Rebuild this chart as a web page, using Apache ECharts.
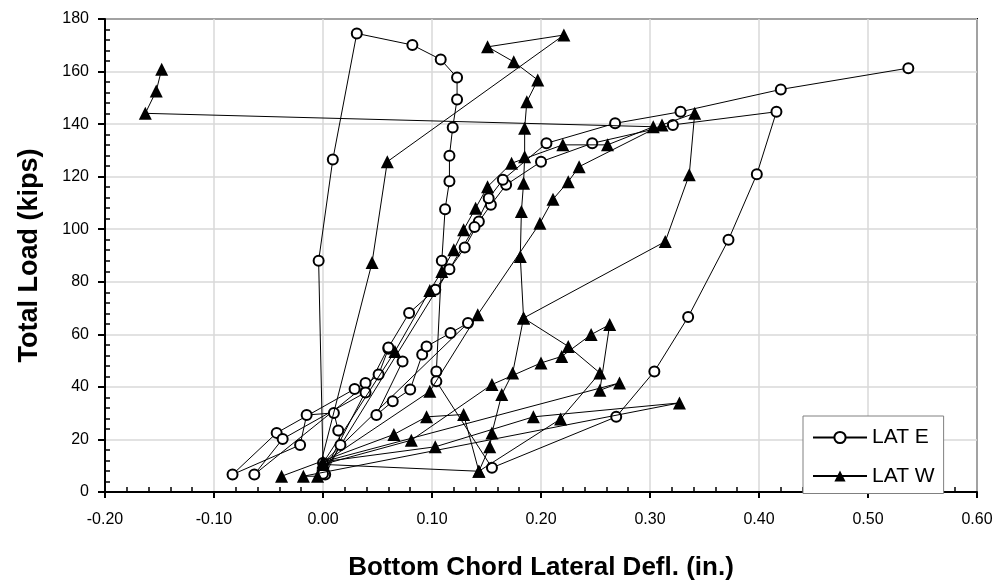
<!DOCTYPE html>
<html>
<head>
<meta charset="utf-8">
<script src="https://cdn.jsdelivr.net/npm/echarts@6/dist/echarts.min.js"></script>
<style>
  html, body { margin: 0; padding: 0; background: #fff; }
  #chart { width: 1008px; height: 588px; }
</style>
</head>
<body>
<div id="chart"></div>
<script>
// Lateral deflection of the bottom chord (in.) vs. total load (kips), in recorded order
const latE = [
  [0.002, 6.65], [0.016, 17.9], [0.014, 23.4], [0.010, 30.1], [-0.015, 29.3], [-0.021, 17.9], [-0.083, 6.65],
  [-0.0425, 22.5], [0.029, 39.2], [0.039, 41.5], [0.039, 37.9], [-0.037, 20.2], [-0.063, 6.65],
  [0.051, 44.7], [0.060, 54.5], [0.073, 49.7], [0.049, 29.3], [0.064, 34.5], [0.080, 39.0],
  [0.091, 52.3], [0.095, 55.4], [0.117, 60.5], [0.133, 64.3], [0.0, 11.0],
  [-0.004, 88.0], [0.009, 126.5], [0.031, 174.5], [0.082, 170.1], [0.108, 164.6], [0.123, 157.7],
  [0.123, 149.4], [0.119, 138.7], [0.116, 128.0], [0.116, 118.3], [0.112, 107.6], [0.109, 88.0],
  [0.104, 45.9], [0.104, 42.1], [0.155, 9.2], [0.269, 28.6], [0.304, 45.9], [0.335, 66.6], [0.372, 96.0],
  [0.398, 120.9], [0.416, 144.7], [0.321, 139.7], [0.247, 132.7], [0.200, 125.7], [0.168, 116.9],
  [0.154, 109.3], [0.143, 102.9], [0.130, 93.0], [0.103, 77.0], [0.079, 68.1], [0.060, 55.0], [0.0, 6.9],
  [0.116, 84.8], [0.139, 100.8], [0.152, 111.8], [0.165, 118.8], [0.205, 132.7], [0.268, 140.3],
  [0.328, 144.7], [0.420, 153.2], [0.537, 161.3]
];

const latW = [
  [-0.038, 6.0], [0.065, 21.9], [0.095, 28.6], [0.129, 29.5], [0.143, 7.9],
  [0.0, 10.5], [0.081, 19.7], [0.155, 40.9], [0.200, 49.1], [0.219, 51.6], [0.246, 59.9], [0.263, 63.7],
  [0.254, 38.7], [0.272, 41.5], [0.0, 11.5], [0.103, 17.2], [0.193, 28.6], [0.327, 33.9],
  [-0.018, 6.0], [-0.005, 6.0],
  [0.045, 87.3], [0.059, 125.7], [0.221, 173.9], [0.151, 169.4], [0.175, 163.7], [0.197, 156.8],
  [0.187, 148.5], [0.185, 138.4], [0.185, 127.6], [0.184, 117.5], [0.182, 106.7], [0.181, 89.6],
  [0.184, 66.2], [0.225, 55.4], [0.254, 45.3], [0.218, 27.8], [0.143, 7.9], [0.153, 17.2], [0.155, 22.5],
  [0.164, 37.1], [0.174, 45.3], [0.184, 66.2], [0.314, 95.3],
  [0.336, 120.7], [0.341, 144.1], [0.311, 139.7], [0.235, 123.8], [0.225, 118.1], [0.211, 111.4],
  [0.199, 102.3], [0.142, 67.5], [0.098, 38.3], [0.0, 11.0], [0.066, 53.5], [0.098, 76.7], [0.109, 83.9],
  [0.120, 92.2], [0.129, 99.8], [0.140, 108.0], [0.151, 116.2], [0.173, 125.1], [0.220, 132.1], [0.261, 132.1],
  [0.303, 139.0], [-0.163, 144.1], [-0.153, 152.6], [-0.148, 160.9]
];

const xTicks = { min: -0.2, max: 0.6, step: 0.1 };
const yTicks = { min: 0, max: 180, step: 20 };

const chart = echarts.init(document.getElementById('chart'), null, { renderer: 'canvas' });
const font = '"Liberation Sans", Arial, sans-serif';

chart.setOption({
  animation: false,
  backgroundColor: '#fff',
  grid: {
    left: 105, right: 31, top: 19, bottom: 96,
    show: true, borderColor: '#000', borderWidth: 2, backgroundColor: 'transparent'
  },
  legend: {
    left: 803, top: 416,
    orient: 'vertical',
    backgroundColor: '#fff',
    borderColor: '#808080', borderWidth: 1,
    padding: [11, 9, 7, 9],
    itemWidth: 54, itemHeight: 14, itemGap: 17.5,
    textStyle: { fontFamily: font, fontSize: 21, color: '#000' },
    data: ['LAT E', 'LAT W']
  },
  xAxis: [{
    type: 'value', min: xTicks.min, max: xTicks.max, interval: xTicks.step,
    name: 'Bottom Chord Lateral Defl. (in.)', nameLocation: 'middle', nameGap: 63,
    nameTextStyle: { fontFamily: font, fontSize: 26, fontWeight: 'bold', color: '#000' },
    axisLine: { onZero: false, lineStyle: { color: '#000', width: 2 } },
    axisTick: { show: true, length: 6, lineStyle: { color: '#000', width: 2 } },
    axisLabel: { fontFamily: font, fontSize: 16, color: '#000', margin: 20, formatter: v => v.toFixed(2) },
    splitLine: { show: true, lineStyle: { color: '#d9d9d9', width: 1.5 } }
  }, {
    type: 'value', min: xTicks.min, max: xTicks.max, interval: xTicks.step, position: 'bottom',
    axisLine: { show: false, onZero: false }, axisLabel: { show: false }, splitLine: { show: false },
    axisTick: { show: false, inside: true },
    minorTick: { show: true, splitNumber: 5, length: 5, lineStyle: { color: '#000', width: 1.5 } }
  }],
  yAxis: [{
    type: 'value', min: yTicks.min, max: yTicks.max, interval: yTicks.step,
    name: 'Total Load (kips)', nameLocation: 'middle', nameGap: 62,
    nameTextStyle: { fontFamily: font, fontSize: 27, fontWeight: 'bold', color: '#000' },
    axisLine: { onZero: false, lineStyle: { color: '#000', width: 2 } },
    axisTick: { show: true, length: 7, lineStyle: { color: '#000', width: 2 } },
    axisLabel: { fontFamily: font, fontSize: 16, color: '#000', margin: 16 },
    splitLine: { show: true, lineStyle: { color: '#d9d9d9', width: 1.5 } }
  }, {
    type: 'value', min: yTicks.min, max: yTicks.max, interval: yTicks.step, position: 'left',
    axisLine: { show: false, onZero: false }, axisLabel: { show: false }, splitLine: { show: false },
    axisTick: { show: false, inside: true },
    minorTick: { show: true, splitNumber: 5, length: 5, lineStyle: { color: '#000', width: 1.5 } }
  }],
  series: [{
    name: 'LAT E', type: 'line', data: latE,
    symbol: 'emptyCircle', symbolSize: 10,
    itemStyle: { color: '#000', borderWidth: 1.8 },
    lineStyle: { color: '#000', width: 1 },
    z: 3
  }, {
    name: 'LAT W', type: 'line', data: latW,
    symbol: 'triangle', symbolSize: 13,
    itemStyle: { color: '#000' },
    lineStyle: { color: '#000', width: 1 },
    z: 4
  }]
});
</script>
</body>
</html>
